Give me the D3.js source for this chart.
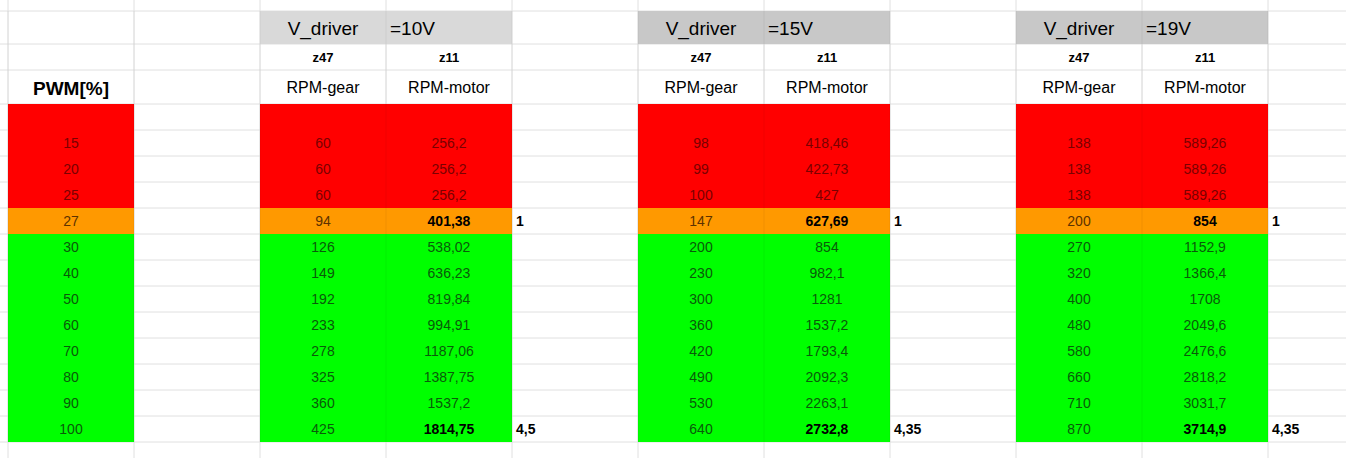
<!DOCTYPE html><html><head><meta charset="utf-8"><script src="https://cdn.jsdelivr.net/npm/d3@7"></script>
<style>body{margin:0;background:#fff}</style></head><body><svg id="s" width="1346" height="458"></svg>
<script>
const pwm=[null,15,20,25,27,30,40,50,60,70,80,90,100];
const gear10=[null,60,60,60,94,126,149,192,233,278,325,360,425];
const motor10=[null,"256,2","256,2","256,2","401,38","538,02","636,23","819,84","994,91","1187,06","1387,75","1537,2","1814,75"];
const gear15=[null,98,99,100,147,200,230,300,360,420,490,530,640];
const motor15=[null,"418,46","422,73","427","627,69","854","982,1","1281","1537,2","1793,4","2092,3","2263,1","2732,8"];
const gear19=[null,138,138,138,200,270,320,400,480,580,660,710,870];
const motor19=[null,"589,26","589,26","589,26","854","1152,9","1366,4","1708","2049,6","2476,6","2818,2","3031,7","3714,9"];
const voltages=["=10V","=15V","=19V"];
const ratios=[["1","4,5"],["1","4,35"],["1","4,35"]];
const groups=[[gear10,motor10],[gear15,motor15],[gear19,motor19]];
const svg=d3.select("#s");
const colX=d3.range(12).map(i=>8+126*i);
const rowY=[0,11,44,70,104];for(let i=1;i<=13;i++)rowY.push(104+26*i);
const dataRow=i=>4+i; // row index for data i
const state=i=>i<=3?"r":(i==4?"o":"g");
const fill={r:"#ff0000",o:"#ff9900",g:"#00ff00"},tc={r:"#7a0000",o:"#5c3200",g:"#0a5a0a"};
// grid
svg.selectAll(".v").data(colX).join("line").attr("x1",d=>d).attr("x2",d=>d).attr("y1",0).attr("y2",458).attr("stroke","#e0e0e0");
svg.selectAll(".h").data(rowY.slice(1)).join("line").attr("x1",0).attr("x2",1346).attr("y1",d=>d).attr("y2",d=>d).attr("stroke","#e0e0e0");
const F="Liberation Sans, Arial, sans-serif";
function cell(c,r,txt,o){o=o||{};const x0=colX[c],x1=colX[c+1]||1346,y0=rowY[r],y1=rowY[r+1];
 if(o.fill)svg.append("rect").attr("x",x0).attr("y",y0).attr("width",x1-x0).attr("height",y1-y0).attr("fill",o.fill);
 if(txt!=null){const t=svg.append("text").attr("y",(y0+y1)/2+(o.dy||5)).attr("font-family",F).attr("font-size",o.size||14).attr("fill",o.color||"#000").attr("font-weight",o.bold?"bold":"normal").text(txt);
 if(o.left)t.attr("x",x0+4);else t.attr("x",(x0+x1)/2).attr("text-anchor","middle");}}
// PWM column
cell(0,3,"PWM[%]",{size:19,bold:true,dy:8});
pwm.forEach((p,i)=>cell(0,dataRow(i),p,{fill:fill[state(i)],color:tc[state(i)]}));
groups.forEach((g,k)=>{const c=2+3*k;
 cell(c,1,"V_driver",{fill:k?"#c8c8c8":"#d9d9d9",size:19,bold:false,dy:7});
 cell(c+1,1,voltages[k],{fill:k?"#c8c8c8":"#d9d9d9",size:19,left:true,dy:7});
 svg.selectAll(null).data([c,c+1]).join("line");
 cell(c,2,"z47",{bold:true,size:13});cell(c+1,2,"z11",{bold:true,size:13});
 cell(c,3,"RPM-gear",{size:16,dy:6});cell(c+1,3,"RPM-motor",{size:16,dy:6});
 g[0].forEach((v,i)=>{const s=state(i);cell(c,dataRow(i),v,{fill:fill[s],color:tc[s]});
  const b=(i==4||i==12);cell(c+1,dataRow(i),g[1][i],{fill:fill[s],color:b?"#000":tc[s],bold:b});});
 cell(c+2,dataRow(4),ratios[k][0],{left:true,bold:true});
 cell(c+2,dataRow(12),ratios[k][1],{left:true,bold:true});
});
// separator lines within colored areas
svg.selectAll(".hv").data(colX).join("line").attr("x1",d=>d).attr("x2",d=>d).attr("y1",11).attr("y2",442).attr("stroke","rgba(0,0,0,0.06)");
</script></body></html>
